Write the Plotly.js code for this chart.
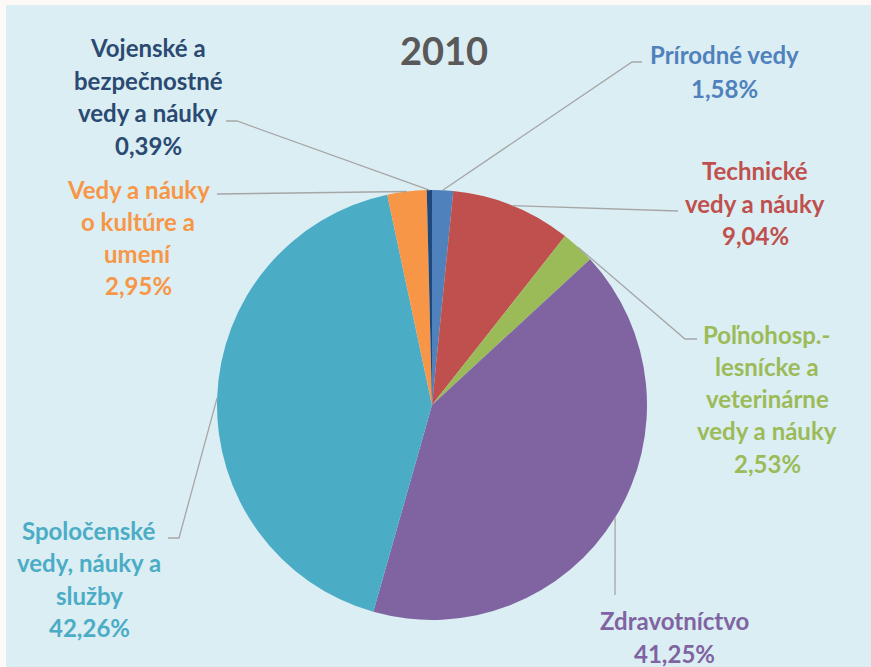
<!DOCTYPE html>
<html>
<head>
<meta charset="utf-8">
<script src="https://cdn.plot.ly/plotly-3.0.1.min.js"></script>
<style>html,body{margin:0;padding:0;background:#fdf9f6;}#chart{width:871px;height:667px;}</style>
</head>
<body>
<div id="chart"></div>
<script>
// ---- data ----
const categories = [
  "Prírodné vedy",
  "Technické vedy a náuky",
  "Poľnohosp.-lesnícke a veterinárne vedy a náuky",
  "Zdravotníctvo",
  "Spoločenské vedy, náuky a služby",
  "Vedy a náuky o kultúre a umení",
  "Vojenské a bezpečnostné vedy a náuky"
];
const values = [1.58, 9.04, 2.53, 41.25, 42.26, 2.95, 0.39];
const labelLines = [
  ["Prírodné vedy"],
  ["Technické", "vedy a náuky"],
  ["Poľnohosp.-", "lesnícke a", "veterinárne", "vedy a náuky"],
  ["Zdravotníctvo"],
  ["Spoločenské", "vedy, náuky a", "služby"],
  ["Vedy a náuky", "o kultúre a", "umení"],
  ["Vojenské a", "bezpečnostné", "vedy a náuky"]
];
const sliceColors = ["#4f81bd", "#c0504d", "#9bbb59", "#8064a2", "#4bacc6", "#f79646", "#1f497d"];
const textColors  = ["#4f81bd", "#c0504d", "#9bbb59", "#8064a2", "#4bacc6", "#f79646", "#2a4a72"];
const titleText = "2010";

// ---- layout geometry (px) ----
const W = 871, H = 667;
const CX = 432, CY = 405, R = 215;
// label block: center x, first line y, line spacing
const labelPos = [
  [724, 54, 34],
  [755, 170, 33],
  [767, 334, 32.3],
  [674, 620, 33],
  [89, 530, 32.5],
  [138, 189, 32.3],
  [148, 48, 32.5]
];
// leader outer points
const leaderOuter = [
  [[642, 62], [632, 62]],
  [[678, 211]],
  [[697, 339], [685, 339]],
  [[615, 595]],
  [[168, 538], [179, 538]],
  [[217, 194]],
  [[226, 121], [237, 121]]
];

const px = x => x / W;
const py = y => 1 - y / H;
const fmt = v => v.toFixed(2).replace(".", ",") + "%";

const total = values.reduce((a, b) => a + b, 0);
let cum = 0;
const annotations = [];
const shapes = [];
// chart background panel
shapes.push({type: "rect", xref: "paper", yref: "paper", x0: px(6), x1: 1, y0: 0, y1: py(5),
  fillcolor: "#dbeef3", line: {width: 0}, layer: "below"});

values.forEach((v, i) => {
  const mid = (cum + v / 2) / total * 2 * Math.PI;
  cum += v;
  const ex = CX + R * Math.sin(mid), ey = CY - R * Math.cos(mid);
  const pts = leaderOuter[i].concat([[ex, ey]]);
  const path = pts.map((p, k) => (k ? "L" : "M") + px(p[0]).toFixed(5) + "," + py(p[1]).toFixed(5)).join(" ");
  shapes.push({type: "path", xref: "paper", yref: "paper", path: path, line: {color: "#a6a6a6", width: 1.3}});
  const lines = labelLines[i].concat([fmt(v)]);
  const [lx, ly, sp] = labelPos[i];
  lines.forEach((t, k) => {
    annotations.push({xref: "paper", yref: "paper", x: px(lx), y: py(ly + k * sp),
      xanchor: "center", yanchor: "middle", showarrow: false, text: t,
      font: {family: "Lato, 'Open Sans', sans-serif", size: 24, color: textColors[i], weight: 700}});
  });
});

annotations.push({xref: "paper", yref: "paper", x: px(444), y: py(50), xanchor: "center", yanchor: "middle",
  showarrow: false, text: "<b>" + titleText + "</b>",
  font: {family: "Lato, 'Open Sans', sans-serif", size: 38, color: "#595959"}});

const trace = {
  type: "pie",
  labels: categories,
  values: values,
  sort: false,
  direction: "clockwise",
  rotation: 0,
  textinfo: "none",
  hoverinfo: "label+percent",
  marker: {colors: sliceColors, line: {width: 0}},
  domain: {x: [px(CX - R), px(CX + R)], y: [py(CY + R), py(CY - R)]},
  showlegend: false
};

Plotly.newPlot("chart", [trace], {
  width: W, height: H,
  margin: {l: 0, r: 0, t: 0, b: 0},
  paper_bgcolor: "#fdf9f6",
  showlegend: false,
  shapes: shapes,
  annotations: annotations
}, {displayModeBar: false, staticPlot: true});
</script>
</body>
</html>
